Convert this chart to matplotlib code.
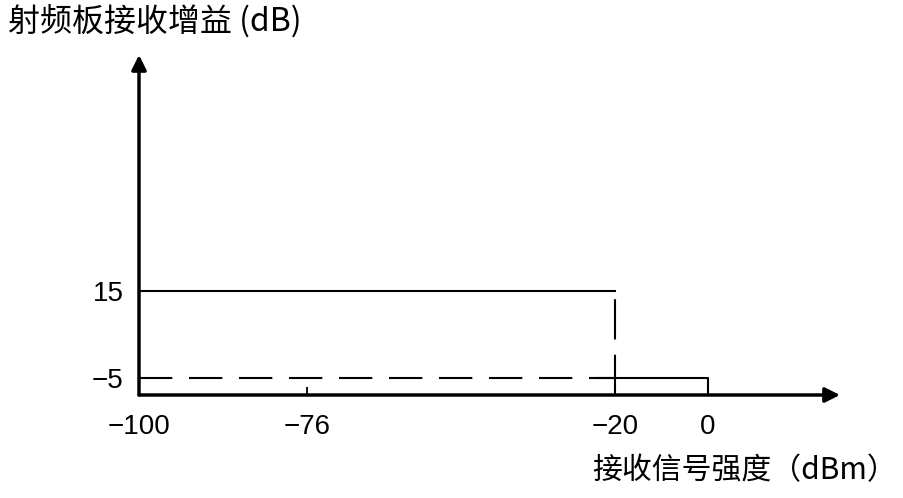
import numpy as np
import matplotlib
matplotlib.use('Agg')
import matplotlib.pyplot as plt

plt.rcParams['font.family'] = ['Liberation Sans', 'Noto Sans CJK SC', 'DejaVu Sans']
plt.rcParams['lines.scale_dashes'] = False
plt.rcParams['axes.unicode_minus'] = True

# data (schematic)
x_ticks = [-100, -76, -20, 0]
y_ticks = [15, -5]
gain_high = 15
gain_low = -5
threshold = -20
low_start = -23.5
x_end = 28.4
y_axis = -8.9
y_top = 69.3

# piecewise scale: the x axis is not drawn to scale in the original
map_data = [-100, -76, -20, 0, 40]
map_pos = [0, 168, 476, 569, 755]

def fwd(x):
    return np.interp(x, map_data, map_pos)

def inv(p):
    return np.interp(p, map_pos, map_data)

fig = plt.figure(figsize=(9.04, 4.98), dpi=100)
ax = fig.add_axes([139/904, (498-395)/498, (840-139)/904, (395-55)/498])
ax.set_xscale('function', functions=(fwd, inv))
ax.set_xlim(-100, x_end)
ax.set_ylim(y_axis, y_top)

for s in ax.spines.values():
    s.set_visible(False)

# axes with arrows
arr = dict(arrowstyle='-|>', lw=2.5, color='black', mutation_scale=22,
           shrinkA=0, shrinkB=0)
ax.annotate('', xy=(1, 0), xytext=(0, 0), xycoords='axes fraction',
            textcoords='axes fraction', arrowprops=arr, annotation_clip=False)
ax.annotate('', xy=(0, 1), xytext=(0, 0), xycoords='axes fraction',
            textcoords='axes fraction', arrowprops=arr, annotation_clip=False)

# gain curves
ax.plot([-100, threshold], [gain_high, gain_high], color='black', lw=1.5, clip_on=False)
ax.plot([-100, threshold], [gain_low, gain_low], color='black', lw=1.5,
        dashes=(24, 12), clip_on=False)
ax.plot([threshold, threshold], [y_axis, gain_high], color='black', lw=1.5,
        dashes=(29, 11), clip_on=False)
ax.plot([low_start, 0, 0], [gain_low, gain_low, y_axis], color='black', lw=1.5,
        clip_on=False)

ax.set_xticks(x_ticks)
ax.set_xticklabels([str(v).replace('-', '\u2212') for v in x_ticks])
ax.set_yticks(y_ticks)
ax.set_yticklabels([str(v).replace('-', '\u2212') for v in y_ticks])
ax.minorticks_off()
ax.tick_params(axis='x', direction='in', length=6, width=1.3, pad=14, labelsize=20)
ax.tick_params(axis='y', length=0, pad=11, labelsize=20)

fig.text(8/904, 1 - 22/498, '射频板接收增益 (dB)', fontsize=23,
         family=['Noto Sans CJK SC', 'DejaVu Sans'], va='center', ha='left')
fig.text(897/904, 1 - 471/498, '接收信号强度（dBm）', fontsize=21.5,
         family=['Noto Sans CJK SC', 'DejaVu Sans'], va='center', ha='right')

fig.savefig('out.png', dpi=100)
